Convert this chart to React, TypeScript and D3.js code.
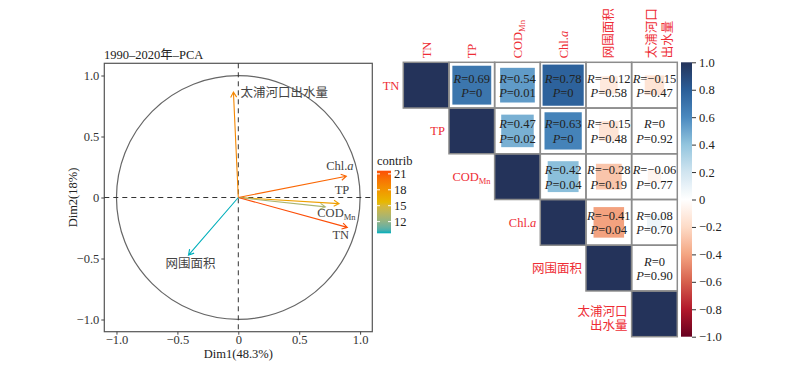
import * as d3 from 'd3'
import { useEffect, useRef } from 'react'

const WIDTH = 797
const HEIGHT = 367
const FONT = '"Liberation Serif", "Times New Roman", "Noto Sans CJK SC", serif'
const FS = 12.5

// PCA variables: coordinates on Dim1 / Dim2 and contribution (%)
const pcaVars = ['太浦河口出水量', 'Chl.a', 'TP', 'COD_Mn', 'TN', '网围面积']
const dim1 = [-0.04, 0.887, 0.827, 0.715, 0.895, -0.409]
const dim2 = [0.864, 0.174, -0.05, -0.077, -0.245, -0.472]
const contrib = [18.8, 20.5, 17.3, 13.0, 21.6, 9.8]
const contribTicks = [12, 15, 18, 21]
const pcaTicks = [-1, -0.5, 0, 0.5, 1]

// correlation matrix, upper triangle rows
const corrVars = ['TN', 'TP', 'COD_Mn', 'Chl.a', '网围面积', '太浦河口出水量']
const corrR = [
  [1, 0.69, 0.54, 0.78, -0.12, -0.15],
  [1, 0.47, 0.63, -0.15, 0],
  [1, 0.42, -0.28, -0.06],
  [1, -0.41, 0.08],
  [1, 0],
  [1],
]
const corrP = [
  ['', '0', '0.01', '0', '0.58', '0.47'],
  ['', '0.02', '0', '0.48', '0.92'],
  ['', '0.04', '0.19', '0.77'],
  ['', '0.04', '0.70'],
  ['', '0.90'],
  [''],
]
const colorbarTicks = [1, 0.8, 0.6, 0.4, 0.2, 0, -0.2, -0.4, -0.6, -0.8, -1]

type G = d3.Selection<SVGGElement, unknown, null, undefined>
type T = d3.Selection<SVGTextElement, unknown, null, undefined>

// variable names with subscript / italic parts
const writeName = (t: T, name: string, size: number) => {
  if (name === 'COD_Mn') {
    t.append('tspan').text('COD')
    t.append('tspan').attr('font-size', size * 0.68).attr('dy', 3).text('Mn')
  } else if (name === 'Chl.a') {
    t.append('tspan').text('Chl.')
    t.append('tspan').attr('font-style', 'italic').text('a')
  } else {
    t.text(name)
  }
}

const numFmt = (v: number) => (v === 0 ? '0' : d3.format('.1f')(v))

function drawPca(svg: G) {
  const x = d3.scaleLinear([-1.1, 1.1], [104.3, 372.3])
  const y = d3.scaleLinear([-1.1, 1.1], [331.7, 63.3])

  svg
    .append('text')
    .attr('x', 104)
    .attr('y', 59)
    .attr('font-size', FS)
    .attr('fill', '#222')
    .text('1990–2020年–PCA')

  svg
    .append('rect')
    .attr('x', x(-1.1))
    .attr('y', y(1.1))
    .attr('width', x(1.1) - x(-1.1))
    .attr('height', y(-1.1) - y(1.1))
    .attr('fill', 'none')
    .attr('stroke', '#555')
    .attr('stroke-width', 1.2)

  const xAxis = svg
    .append('g')
    .attr('transform', `translate(0,${y(-1.1)})`)
    .call(d3.axisBottom(x).tickValues(pcaTicks).tickSize(3).tickFormat((d) => numFmt(+d)))
  const yAxis = svg
    .append('g')
    .attr('transform', `translate(${x(-1.1)},0)`)
    .call(d3.axisLeft(y).tickValues(pcaTicks).tickSize(3).tickFormat((d) => numFmt(+d)))
  for (const ax of [xAxis, yAxis]) {
    ax.select('.domain').remove()
    ax.selectAll('line').attr('stroke', '#444')
    ax.selectAll('text').attr('font-family', FONT).attr('font-size', FS).attr('fill', '#333')
  }
  xAxis.selectAll('text').attr('y', 3.5)
  yAxis.selectAll('text').attr('x', -5)

  svg
    .append('text')
    .attr('x', x(0))
    .attr('y', 358)
    .attr('text-anchor', 'middle')
    .attr('font-size', FS)
    .attr('fill', '#222')
    .text('Dim1(48.3%)')
  svg
    .append('text')
    .attr('transform', `translate(77,${y(0)}) rotate(-90)`)
    .attr('text-anchor', 'middle')
    .attr('font-size', FS)
    .attr('fill', '#222')
    .text('Dim2(18%)')

  svg
    .append('circle')
    .attr('cx', x(0))
    .attr('cy', y(0))
    .attr('r', x(1) - x(0))
    .attr('fill', 'none')
    .attr('stroke', '#666')
    .attr('stroke-width', 1.2)

  svg
    .append('line')
    .attr('x1', x(-1.1))
    .attr('x2', x(1.1))
    .attr('y1', y(0))
    .attr('y2', y(0))
    .attr('stroke', '#333')
    .attr('stroke-dasharray', '5,4')
  svg
    .append('line')
    .attr('x1', x(0))
    .attr('x2', x(0))
    .attr('y1', y(1.1))
    .attr('y2', y(-1.1))
    .attr('stroke', '#333')
    .attr('stroke-dasharray', '5,4')

  const cExt = d3.extent(contrib) as [number, number]
  const cMid = (cExt[0] + cExt[1]) / 2
  const color = d3
    .scaleLinear<string>()
    .domain([cExt[0], cMid, cExt[1]])
    .range(['#00AFBB', '#E7B800', '#FC4E07'])
    .interpolate(d3.interpolateLab)

  // label placement relative to arrow tip
  const labelPos: Record<string, [number, number, string]> = {
    太浦河口出水量: [7, 5, 'start'],
    'Chl.a': [-6.5, -6, 'middle'],
    TP: [3, -9.5, 'middle'],
    COD_Mn: [11, 10, 'middle'],
    TN: [-6.5, 12, 'middle'],
    网围面积: [2, 12.5, 'middle'],
  }

  pcaVars.forEach((name, i) => {
    const x0 = x(0)
    const y0 = y(0)
    const x1 = x(dim1[i])
    const y1 = y(dim2[i])
    const c = color(contrib[i])
    const ang = Math.atan2(y1 - y0, x1 - x0)
    const len = 6
    const a1 = ang + Math.PI - Math.PI / 6
    const a2 = ang + Math.PI + Math.PI / 6
    const p = d3.path()
    p.moveTo(x0, y0)
    p.lineTo(x1, y1)
    p.moveTo(x1 + len * Math.cos(a1), y1 + len * Math.sin(a1))
    p.lineTo(x1, y1)
    p.lineTo(x1 + len * Math.cos(a2), y1 + len * Math.sin(a2))
    svg
      .append('path')
      .attr('d', p.toString())
      .attr('fill', 'none')
      .attr('stroke', c)
      .attr('stroke-width', 1.1)

    const [dx, dy, anchor] = labelPos[name]
    const t = svg
      .append('text')
      .attr('x', x1 + dx)
      .attr('y', y1 + dy)
      .attr('text-anchor', anchor)
      .attr('font-size', FS)
      .attr('fill', '#444')
    writeName(t, name, FS)
  })

  // contrib legend
  const ly = d3.scaleLinear(cExt, [233.3, 170.7])
  const defs = svg.append('defs')
  const grad = defs
    .append('linearGradient')
    .attr('id', 'contribGrad')
    .attr('x1', 0)
    .attr('x2', 0)
    .attr('y1', 1)
    .attr('y2', 0)
  d3.range(0, 1.0001, 0.05).forEach((f) => {
    grad
      .append('stop')
      .attr('offset', f)
      .attr('stop-color', color(cExt[0] + f * (cExt[1] - cExt[0])))
  })
  svg.append('text').attr('x', 377).attr('y', 165).attr('font-size', FS).attr('fill', '#222').text('contrib')
  svg
    .append('rect')
    .attr('x', 377)
    .attr('y', ly(cExt[1]))
    .attr('width', 14)
    .attr('height', ly(cExt[0]) - ly(cExt[1]))
    .attr('fill', 'url(#contribGrad)')
  contribTicks.forEach((v) => {
    svg.append('line').attr('x1', 377).attr('x2', 380).attr('y1', ly(v)).attr('y2', ly(v)).attr('stroke', '#fff')
    svg.append('line').attr('x1', 388).attr('x2', 391).attr('y1', ly(v)).attr('y2', ly(v)).attr('stroke', '#fff')
    svg
      .append('text')
      .attr('x', 394)
      .attr('y', ly(v) + 4.5)
      .attr('font-size', FS)
      .attr('fill', '#222')
      .text(v)
  })
}

function drawCorr(svg: G) {
  const idx = corrVars.map((_, i) => i)
  const band = d3.scaleBand<number>(idx, [403.3, 677.3])
  const rowBand = d3.scaleBand<number>(idx, [62.3, 336.7])
  const cw = band.bandwidth()
  const ch = rowBand.bandwidth()
  const color = d3
    .scaleLinear<string>()
    .domain([-1, -0.8, -0.6, -0.4, -0.2, 0, 0.2, 0.4, 0.6, 0.8, 1])
    .range([
      '#67001F',
      '#B2182B',
      '#D6604D',
      '#F4A582',
      '#FDDBC7',
      '#FFFFFF',
      '#D1E5F0',
      '#92C5DE',
      '#4A89BF',
      '#2A5E98',
      '#24335A',
    ])
  const red = '#EE2D35'

  corrR.forEach((row, i) => {
    row.forEach((r, k) => {
      const j = i + k
      const cx = band(j)!
      const cy = rowBand(i)!
      svg.append('rect').attr('x', cx).attr('y', cy).attr('width', cw).attr('height', ch).attr('fill', '#fff')
      if (j === i) {
        svg.append('rect').attr('x', cx).attr('y', cy).attr('width', cw).attr('height', ch).attr('fill', color(1))
        return
      }
      if (r !== 0) {
        const side = (cw - 2) * Math.sqrt(Math.abs(r)) + 2.6
        svg
          .append('rect')
          .attr('x', cx + (cw - side) / 2)
          .attr('y', cy + (ch - side) / 2)
          .attr('width', side)
          .attr('height', side)
          .attr('fill', color(r))
      }
      const rText = r === 0 ? '0' : d3.format('.2f')(r)
      const t1 = svg
        .append('text')
        .attr('x', cx + cw / 2)
        .attr('y', cy + ch / 2 - 2.5)
        .attr('text-anchor', 'middle')
        .attr('font-size', FS)
        .attr('fill', '#222')
      t1.append('tspan').attr('font-style', 'italic').text('R')
      t1.append('tspan').text('=' + rText)
      const t2 = svg
        .append('text')
        .attr('x', cx + cw / 2)
        .attr('y', cy + ch / 2 + 12)
        .attr('text-anchor', 'middle')
        .attr('font-size', FS)
        .attr('fill', '#222')
      t2.append('tspan').attr('font-style', 'italic').text('P')
      t2.append('tspan').text('=' + corrP[i][k])
    })
  })

  // grid lines on top
  corrR.forEach((row, i) => {
    row.forEach((_, k) => {
      const j = i + k
      svg
        .append('rect')
        .attr('x', band(j)!)
        .attr('y', rowBand(i)!)
        .attr('width', cw)
        .attr('height', ch)
        .attr('fill', 'none')
        .attr('stroke', '#8c8c8c')
        .attr('stroke-width', 1.5)
    })
  })

  // row labels
  corrVars.forEach((name, i) => {
    const xr = band(i)! - 4
    const yc = rowBand(i)! + ch / 2
    if (name === '太浦河口出水量') {
      const t = svg.append('text').attr('text-anchor', 'end').attr('font-size', FS).attr('fill', red)
      t.append('tspan').attr('x', xr).attr('y', yc + 2).text('太浦河口')
      t.append('tspan').attr('x', xr).attr('y', yc + 16.5).text('出水量')
      return
    }
    const t = svg
      .append('text')
      .attr('x', xr)
      .attr('y', yc + 4.5)
      .attr('text-anchor', 'end')
      .attr('font-size', FS)
      .attr('fill', red)
    writeName(t, name, FS)
  })

  // column labels
  corrVars.forEach((name, j) => {
    const xc = band(j)! + cw / 2
    if (name === '太浦河口出水量') {
      const g = svg.append('g').attr('transform', `translate(${xc},${62.3 - 4}) rotate(-90)`)
      const t = g.append('text').attr('font-size', FS).attr('fill', red)
      t.append('tspan').attr('x', 0).attr('y', 1.5).text('太浦河口')
      t.append('tspan').attr('x', 0).attr('y', 17.5).text('出水量')
      return
    }
    const t = svg
      .append('text')
      .attr('transform', `translate(${xc + 4.5},${62.3 - 4}) rotate(-90)`)
      .attr('font-size', FS)
      .attr('fill', red)
    writeName(t, name, FS)
  })

  // colour bar
  const cb = d3.scaleLinear([-1, 1], [336.7, 62.3])
  const grad = svg
    .append('defs')
    .append('linearGradient')
    .attr('id', 'corrGrad')
    .attr('x1', 0)
    .attr('x2', 0)
    .attr('y1', 1)
    .attr('y2', 0)
  d3.range(-1, 1.0001, 0.05).forEach((v) => {
    grad
      .append('stop')
      .attr('offset', (v + 1) / 2)
      .attr('stop-color', color(v))
  })
  svg
    .append('rect')
    .attr('x', 681)
    .attr('y', cb(1))
    .attr('width', 11)
    .attr('height', cb(-1) - cb(1))
    .attr('fill', 'url(#corrGrad)')
  const ax = svg
    .append('g')
    .attr('transform', 'translate(692,0)')
    .call(d3.axisRight(cb).tickValues(colorbarTicks).tickSize(4).tickFormat((d) => numFmt(+d)))
  ax.select('.domain').remove()
  ax.selectAll('line').attr('stroke', '#333')
  ax.selectAll('text').attr('font-family', FONT).attr('font-size', FS).attr('fill', '#222').attr('x', 7)
}

export default function App() {
  const ref = useRef<SVGSVGElement>(null)
  useEffect(() => {
    if (!ref.current) return
    const root = d3.select(ref.current)
    root.selectAll('*').remove()
    const g = root.append('g') as unknown as G
    drawPca(g)
    drawCorr(g)
  }, [])
  return (
    <svg
      ref={ref}
      width={WIDTH}
      height={HEIGHT}
      viewBox={`0 0 ${WIDTH} ${HEIGHT}`}
      fontFamily={FONT}
      style={{ position: 'absolute', left: 0, top: 0, background: '#fff' }}
    />
  )
}
